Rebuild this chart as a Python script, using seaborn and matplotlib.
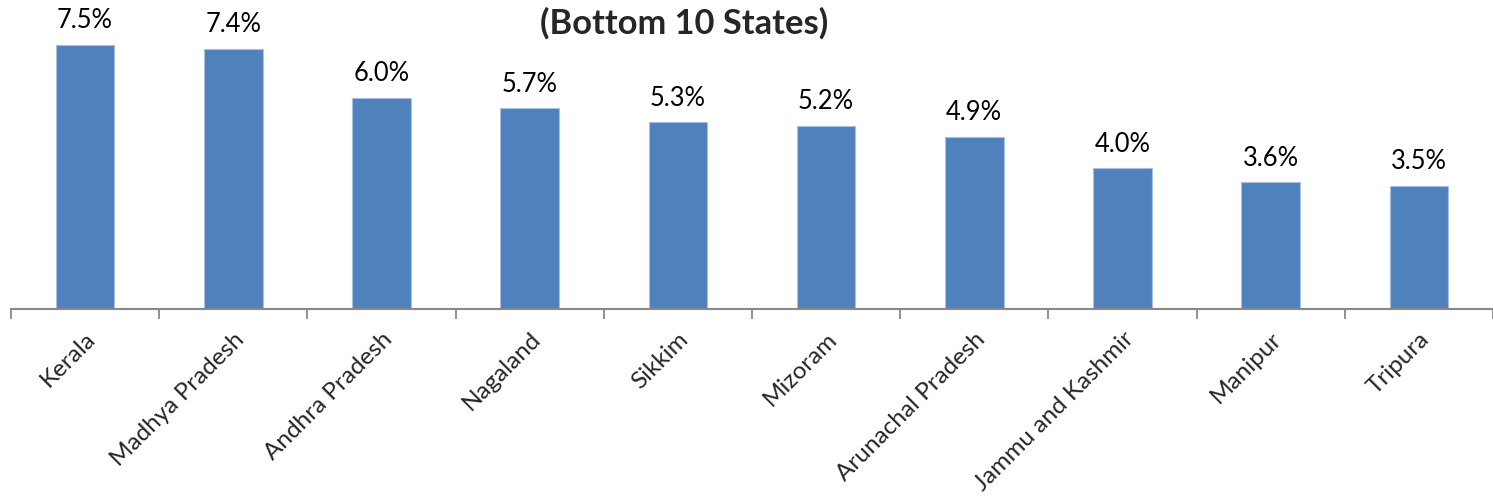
import numpy as np
import pandas as pd
import seaborn as sns
import matplotlib.pyplot as plt

states = ['Kerala', 'Madhya Pradesh', 'Andhra Pradesh', 'Nagaland', 'Sikkim',
          'Mizoram', 'Arunachal Pradesh', 'Jammu and Kashmir', 'Manipur', 'Tripura']
share = [7.5, 7.4, 6.0, 5.7, 5.3, 5.2, 4.9, 4.0, 3.6, 3.5]
title = '(Bottom 10 States)'

df = pd.DataFrame({'state': states, 'share': share})

sns.set_style('white')
plt.rcParams['font.family'] = ['Lato', 'DejaVu Sans']

fig = plt.figure(figsize=(14.93, 5.01), dpi=100)
ax = fig.add_axes([11 / 1493, 192 / 501, 1 - 11 / 1493, 309 / 501])

sns.barplot(data=df, x='state', y='share', color='#4F81BD', width=0.395,
            saturation=1, edgecolor='#A9C0E0', linewidth=0.8, ax=ax)

# value labels above each bar
for i, v in enumerate(share):
    ax.annotate(f'{v:.1f}%', (i, v), xytext=(0, 12), textcoords='offset points',
                ha='center', va='baseline', fontsize=18.4, color='black')

ax.set_xlim(-0.5, len(states) - 0.5)
ax.set_ylim(0, 309 / 35.2)
ax.set_xlabel('')
ax.set_ylabel('')
ax.set_yticks([])

# ticks sit between categories, like the spreadsheet axis
ax.set_xticks(range(len(states)))
ax.set_xticklabels(states, rotation=45, ha='right', rotation_mode='anchor', fontsize=17.5)
ax.tick_params(axis='x', which='major', length=0, pad=14)
ax.set_xticks(np.arange(-0.5, len(states)), minor=True)
ax.tick_params(axis='x', which='minor', bottom=True, length=7, width=1.3,
               color='#888888', direction='out')

for s in ['top', 'right', 'left']:
    ax.spines[s].set_visible(False)
ax.spines['bottom'].set_color('#888888')
ax.spines['bottom'].set_linewidth(1.5)

fig.text(684 / 1493, 1 - 23 / 501, title, ha='center', va='center',
         fontsize=24.8, fontweight='bold')

fig.savefig('out.png', dpi=100)
